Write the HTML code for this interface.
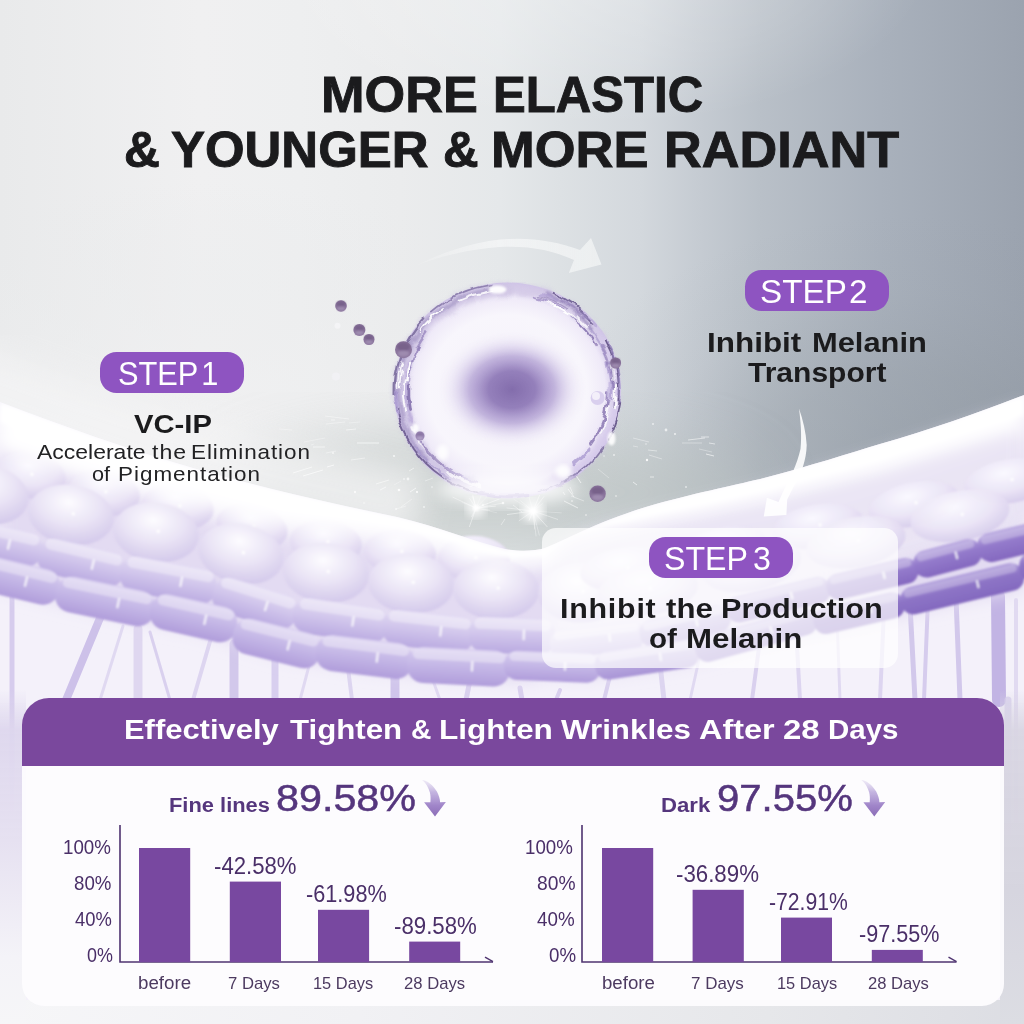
<!DOCTYPE html>
<html><head><meta charset="utf-8"><title>More Elastic</title>
<style>
html,body{margin:0;padding:0;}
body{width:1024px;height:1024px;overflow:hidden;position:relative;background:#e8e8ea;font-family:"Liberation Sans",sans-serif;}
.t{position:absolute;white-space:nowrap;line-height:1;transform-origin:0 0;font-family:"Liberation Sans",sans-serif;}
.pill{position:absolute;background:#8e54c1;border-radius:16.5px;}
</style></head><body>
<svg width="1024" height="1024" viewBox="0 0 1024 1024" style="position:absolute;left:0;top:0">
<defs>
  <linearGradient id="gBase" x1="0" y1="0" x2="1" y2="0">
    <stop offset="0" stop-color="#e9eaeb"/>
    <stop offset="0.195" stop-color="#f0f0f1"/>
    <stop offset="0.293" stop-color="#eeeff0"/>
    <stop offset="0.39" stop-color="#ebeced"/>
    <stop offset="0.488" stop-color="#e5e8ea"/>
    <stop offset="0.547" stop-color="#dde1e4"/>
    <stop offset="0.625" stop-color="#d3d8dd"/>
    <stop offset="0.684" stop-color="#c5cbd2"/>
    <stop offset="0.742" stop-color="#b9c0c8"/>
    <stop offset="0.859" stop-color="#a9b1bc"/>
    <stop offset="1" stop-color="#9ba3af"/>
  </linearGradient>
  <radialGradient id="gTopHi" gradientUnits="userSpaceOnUse" cx="600" cy="-40" r="330" gradientTransform="translate(600 -40) scale(1 0.5) translate(-600 40)">
    <stop offset="0" stop-color="#ffffff" stop-opacity="0.34"/>
    <stop offset="0.6" stop-color="#ffffff" stop-opacity="0.16"/>
    <stop offset="1" stop-color="#ffffff" stop-opacity="0"/>
  </radialGradient>
  <linearGradient id="gVert" x1="0" y1="0" x2="0" y2="1">
    <stop offset="0" stop-color="#8f979e" stop-opacity="0"/>
    <stop offset="0.55" stop-color="#8f979e" stop-opacity="0"/>
    <stop offset="1" stop-color="#8f979e" stop-opacity="0.22"/>
  </linearGradient>
  <radialGradient id="gGlow" cx="0.5" cy="0.5" r="0.5">
    <stop offset="0" stop-color="#e6eae7" stop-opacity="1"/>
    <stop offset="0.6" stop-color="#e2e6e4" stop-opacity="0.7"/>
    <stop offset="1" stop-color="#e2e6e4" stop-opacity="0"/>
  </radialGradient>
  <linearGradient id="gSkin" x1="0" y1="0" x2="0" y2="1">
    <stop offset="0" stop-color="#ffffff"/>
    <stop offset="0.35" stop-color="#f4f1fa"/>
    <stop offset="1" stop-color="#ddd4ee"/>
  </linearGradient>
  <filter id="b1"><feGaussianBlur stdDeviation="0.9"/></filter>
  <filter id="b60" x="-50%" y="-50%" width="200%" height="200%"><feGaussianBlur stdDeviation="60"/></filter>
  <radialGradient id="gCellR" cx="0.45" cy="0.3" r="0.75"><stop offset="0" stop-color="#fbfaff"/><stop offset="0.55" stop-color="#ebe5f6"/><stop offset="1" stop-color="#d3c8ea"/></radialGradient>
  <filter id="b2"><feGaussianBlur stdDeviation="2"/></filter>
  <filter id="b4"><feGaussianBlur stdDeviation="4"/></filter>
  <filter id="b8" x="-10%" y="-20%" width="120%" height="140%"><feGaussianBlur stdDeviation="8"/></filter>
  <filter id="b16" x="-30%" y="-30%" width="160%" height="160%"><feGaussianBlur stdDeviation="16"/></filter>
  <filter id="b30" x="-30%" y="-30%" width="160%" height="160%"><feGaussianBlur stdDeviation="30"/></filter>

  <radialGradient id="gCell" cx="0.45" cy="0.3" r="0.75">
    <stop offset="0" stop-color="#fdfcff"/>
    <stop offset="0.5" stop-color="#e9e3f5"/>
    <stop offset="1" stop-color="#d0c5e9"/>
  </radialGradient>
  <linearGradient id="gPillL" x1="0" y1="0" x2="0" y2="1">
    <stop offset="0" stop-color="#ddd4f1"/><stop offset="0.5" stop-color="#c9bce8"/><stop offset="1" stop-color="#ad9ad9"/>
  </linearGradient>
  <linearGradient id="gPillL2" x1="0" y1="0" x2="0" y2="1">
    <stop offset="0" stop-color="#cfc3ec"/><stop offset="0.5" stop-color="#bbabe1"/><stop offset="1" stop-color="#a692d5"/>
  </linearGradient>
  <linearGradient id="gPillR" x1="0" y1="0" x2="0" y2="1">
    <stop offset="0" stop-color="#b9a8e0"/><stop offset="0.4" stop-color="#9a82cf"/><stop offset="1" stop-color="#8a6fc3"/>
  </linearGradient>
  <linearGradient id="gPillR2" x1="0" y1="0" x2="0" y2="1">
    <stop offset="0" stop-color="#b3a1dd"/><stop offset="0.4" stop-color="#957dcb"/><stop offset="1" stop-color="#8b72c4"/>
  </linearGradient>
  <radialGradient id="gSph" cx="0.5" cy="0.5" r="0.5">
    <stop offset="0" stop-color="#f4f0fa"/>
    <stop offset="0.7" stop-color="#f8f6fc"/>
    <stop offset="0.86" stop-color="#efeaf8"/>
    <stop offset="0.95" stop-color="#ddd3ef"/>
    <stop offset="1" stop-color="#cfc3e8"/>
  </radialGradient>
  <linearGradient id="gRim" x1="0" y1="0" x2="1" y2="1">
    <stop offset="0" stop-color="#cdbfe6"/><stop offset="0.5" stop-color="#e9e3f5"/><stop offset="1" stop-color="#b7a6d6"/>
  </linearGradient>
  <radialGradient id="gCore" cx="0.5" cy="0.5" r="0.5">
    <stop offset="0" stop-color="#836dac"/>
    <stop offset="0.32" stop-color="#917cb9" stop-opacity="0.97"/>
    <stop offset="0.58" stop-color="#b3a2d4" stop-opacity="0.78"/>
    <stop offset="0.82" stop-color="#dcd3ee" stop-opacity="0.35"/>
    <stop offset="1" stop-color="#f4f0fa" stop-opacity="0"/>
  </radialGradient>
  <radialGradient id="gHaze" gradientUnits="userSpaceOnUse" cx="200" cy="440" r="430" gradientTransform="translate(200 440) scale(1 0.6) translate(-200 -440)">
    <stop offset="0" stop-color="#f1f1f2" stop-opacity="0.85"/>
    <stop offset="0.55" stop-color="#ecedee" stop-opacity="0.5"/>
    <stop offset="1" stop-color="#e8eaeb" stop-opacity="0"/>
  </radialGradient>
  <radialGradient id="gDark" gradientUnits="userSpaceOnUse" cx="910" cy="480" r="380" gradientTransform="translate(910 480) scale(1 0.7) translate(-910 -480)">
    <stop offset="0" stop-color="#858d93" stop-opacity="0.36"/>
    <stop offset="0.4" stop-color="#8a9298" stop-opacity="0.27"/>
    <stop offset="0.7" stop-color="#8f979e" stop-opacity="0.07"/>
    <stop offset="1" stop-color="#8f979e" stop-opacity="0"/>
  </radialGradient>
  <clipPath id="cpSkin"><path d="M0,402 C 60,425 130,450 200,470 C 260,487 330,503 397,517 C 440,527 475,542 505,549 C 520,552 535,551 545,548 C 570,538 600,520 656,504 C 700,492 740,484 764,478 C 810,466 850,453 880,444 C 930,430 980,412 1024,395 L1024,1024 L0,1024 Z"/></clipPath>
  <filter id="wob" x="-5%" y="-5%" width="110%" height="110%">
    <feTurbulence type="fractalNoise" baseFrequency="0.045" numOctaves="2" seed="4" result="n"/>
    <feDisplacementMap in="SourceGraphic" in2="n" scale="9" xChannelSelector="R" yChannelSelector="G"/>
  </filter>
  <linearGradient id="gArr1" gradientUnits="userSpaceOnUse" x1="413" y1="0" x2="600" y2="0">
    <stop offset="0" stop-color="#ffffff" stop-opacity="0.1"/>
    <stop offset="0.45" stop-color="#ffffff" stop-opacity="0.5"/>
    <stop offset="1" stop-color="#f4f6f6" stop-opacity="0.72"/>
  </linearGradient>
  <filter id="wob2" x="-5%" y="-5%" width="110%" height="110%">
    <feTurbulence type="fractalNoise" baseFrequency="0.09" numOctaves="2" seed="9" result="n"/>
    <feDisplacementMap in="SourceGraphic" in2="n" scale="7" xChannelSelector="R" yChannelSelector="G"/>
  </filter>
</defs>
<!-- BASE -->
<rect width="1024" height="1024" fill="url(#gBase)"/>
<rect width="1024" height="620" fill="url(#gDark)"/>
<rect width="1024" height="200" fill="url(#gTopHi)"/>
<rect width="1024" height="620" fill="url(#gHaze)"/>
<ellipse cx="490" cy="492" rx="270" ry="62" fill="#b9c1bf" opacity="0.62" filter="url(#b30)"/>
<path d="M-40,375 C 60,412 130,437 200,457 C 260,474 330,490 420,508" fill="none" stroke="#f4f4f5" stroke-width="70" opacity="0.75" filter="url(#b16)"/>
<path d="M0,402 C 60,425 130,450 200,470 C 260,487 330,503 397,517 C 440,527 475,542 505,549 C 520,552 535,551 545,548 C 570,538 600,520 656,504 C 700,492 740,484 764,478 C 810,466 850,453 880,444 C 930,430 980,412 1024,395 L1024,1024 L0,1024 Z" fill="#f4f1fa"/>
<line x1="12" y1="582" x2="12" y2="1024" stroke="#cfc4ea" stroke-width="5" stroke-linecap="round" opacity="0.8"/>
<line x1="100" y1="618" x2="66" y2="700" stroke="#c9bce8" stroke-width="8" stroke-linecap="round" opacity="0.9"/>
<line x1="123" y1="626" x2="100" y2="700" stroke="#dcd4f0" stroke-width="3" stroke-linecap="round" opacity="0.8"/>
<line x1="138" y1="629" x2="138" y2="700" stroke="#ddd5f0" stroke-width="9" stroke-linecap="round" opacity="0.9"/>
<line x1="150" y1="632" x2="170" y2="700" stroke="#d3c9ec" stroke-width="3" stroke-linecap="round" opacity="0.8"/>
<line x1="211" y1="638" x2="193" y2="700" stroke="#d8cfee" stroke-width="4" stroke-linecap="round" opacity="0.8"/>
<line x1="234" y1="644" x2="234" y2="700" stroke="#cfc4ea" stroke-width="9" stroke-linecap="round" opacity="0.9"/>
<line x1="275" y1="655" x2="275" y2="700" stroke="#d6ccee" stroke-width="7" stroke-linecap="round" opacity="0.9"/>
<line x1="310" y1="662" x2="300" y2="700" stroke="#dcd4f0" stroke-width="3" stroke-linecap="round" opacity="0.8"/>
<line x1="348" y1="668" x2="352" y2="700" stroke="#d8cfee" stroke-width="4" stroke-linecap="round" opacity="0.8"/>
<line x1="395" y1="655" x2="395" y2="700" stroke="#cdc1ea" stroke-width="9" stroke-linecap="round" opacity="0.9"/>
<line x1="430" y1="672" x2="440" y2="700" stroke="#dcd4f0" stroke-width="3" stroke-linecap="round" opacity="0.8"/>
<line x1="470" y1="680" x2="466" y2="700" stroke="#d3c9ec" stroke-width="5" stroke-linecap="round" opacity="0.8"/>
<line x1="520" y1="688" x2="522" y2="700" stroke="#d3c9ec" stroke-width="5" stroke-linecap="round" opacity="0.8"/>
<line x1="560" y1="690" x2="556" y2="700" stroke="#d3c9ec" stroke-width="4" stroke-linecap="round" opacity="0.8"/>
<line x1="610" y1="676" x2="604" y2="700" stroke="#d3c9ec" stroke-width="4" stroke-linecap="round" opacity="0.8"/>
<line x1="660" y1="664" x2="664" y2="700" stroke="#d8cfee" stroke-width="5" stroke-linecap="round" opacity="0.8"/>
<line x1="700" y1="655" x2="690" y2="700" stroke="#dcd4f0" stroke-width="3" stroke-linecap="round" opacity="0.8"/>
<line x1="760" y1="640" x2="752" y2="700" stroke="#d3c9ec" stroke-width="4" stroke-linecap="round" opacity="0.8"/>
<line x1="796" y1="628" x2="800" y2="700" stroke="#d8cfee" stroke-width="4" stroke-linecap="round" opacity="0.8"/>
<line x1="837" y1="618" x2="840" y2="700" stroke="#dcd4f0" stroke-width="3" stroke-linecap="round" opacity="0.8"/>
<line x1="884" y1="610" x2="880" y2="700" stroke="#d8cfee" stroke-width="4" stroke-linecap="round" opacity="0.8"/>
<line x1="910" y1="605" x2="915" y2="700" stroke="#cfc4ea" stroke-width="5" stroke-linecap="round" opacity="0.9"/>
<line x1="928" y1="600" x2="924" y2="700" stroke="#d3c9ec" stroke-width="4" stroke-linecap="round" opacity="0.9"/>
<line x1="956" y1="598" x2="960" y2="700" stroke="#cfc4ea" stroke-width="5" stroke-linecap="round" opacity="0.9"/>
<line x1="998" y1="596" x2="999" y2="700" stroke="#bdaee2" stroke-width="14" stroke-linecap="round" opacity="0.9"/>
<line x1="1008" y1="700" x2="1008" y2="1024" stroke="#d6cdec" stroke-width="7" stroke-linecap="round" opacity="0.8"/>
<line x1="1016" y1="600" x2="1016" y2="1024" stroke="#ddd5f0" stroke-width="4" stroke-linecap="round" opacity="0.8"/>
<defs><linearGradient id="gp1" x1="0" y1="0" x2="0" y2="1"><stop offset="0" stop-color="#e4ddf4"/><stop offset="0.45" stop-color="#d2c7ec"/><stop offset="1" stop-color="#b9a9e0"/></linearGradient><linearGradient id="gp2" x1="0" y1="0" x2="0" y2="1"><stop offset="0" stop-color="#e4ddf4"/><stop offset="0.45" stop-color="#d2c7ec"/><stop offset="1" stop-color="#b9a9e0"/></linearGradient><linearGradient id="gp3" x1="0" y1="0" x2="0" y2="1"><stop offset="0" stop-color="#e4ddf4"/><stop offset="0.45" stop-color="#d2c7ec"/><stop offset="1" stop-color="#b9a9e0"/></linearGradient><linearGradient id="gp4" x1="0" y1="0" x2="0" y2="1"><stop offset="0" stop-color="#e4ddf4"/><stop offset="0.45" stop-color="#d2c7ec"/><stop offset="1" stop-color="#b9a9e0"/></linearGradient><linearGradient id="gp5" x1="0" y1="0" x2="0" y2="1"><stop offset="0" stop-color="#e4ddf4"/><stop offset="0.45" stop-color="#d2c7ec"/><stop offset="1" stop-color="#b9a9e0"/></linearGradient><linearGradient id="gp6" x1="0" y1="0" x2="0" y2="1"><stop offset="0" stop-color="#e4ddf4"/><stop offset="0.45" stop-color="#d2c7ec"/><stop offset="1" stop-color="#b9a9e0"/></linearGradient><linearGradient id="gp7" x1="0" y1="0" x2="0" y2="1"><stop offset="0" stop-color="#e4ddf4"/><stop offset="0.45" stop-color="#d2c7ec"/><stop offset="1" stop-color="#b9a9e0"/></linearGradient><linearGradient id="gp8" x1="0" y1="0" x2="0" y2="1"><stop offset="0" stop-color="#e4ddf4"/><stop offset="0.45" stop-color="#d2c7ec"/><stop offset="1" stop-color="#b9a9e0"/></linearGradient><linearGradient id="gp9" x1="0" y1="0" x2="0" y2="1"><stop offset="0" stop-color="#d4caed"/><stop offset="0.45" stop-color="#bdaee1"/><stop offset="1" stop-color="#a894d5"/></linearGradient><linearGradient id="gp10" x1="0" y1="0" x2="0" y2="1"><stop offset="0" stop-color="#c3b5e5"/><stop offset="0.45" stop-color="#a792d5"/><stop offset="1" stop-color="#957cc9"/></linearGradient><linearGradient id="gp11" x1="0" y1="0" x2="0" y2="1"><stop offset="0" stop-color="#b4a2de"/><stop offset="0.45" stop-color="#937acb"/><stop offset="1" stop-color="#8468bf"/></linearGradient><linearGradient id="gp12" x1="0" y1="0" x2="0" y2="1"><stop offset="0" stop-color="#b4a2de"/><stop offset="0.45" stop-color="#937acb"/><stop offset="1" stop-color="#8468bf"/></linearGradient><linearGradient id="gp13" x1="0" y1="0" x2="0" y2="1"><stop offset="0" stop-color="#b4a2de"/><stop offset="0.45" stop-color="#937acb"/><stop offset="1" stop-color="#8468bf"/></linearGradient><linearGradient id="gp14" x1="0" y1="0" x2="0" y2="1"><stop offset="0" stop-color="#d9cff0"/><stop offset="0.45" stop-color="#c6b9e7"/><stop offset="1" stop-color="#b09ddb"/></linearGradient><linearGradient id="gp15" x1="0" y1="0" x2="0" y2="1"><stop offset="0" stop-color="#d9cff0"/><stop offset="0.45" stop-color="#c6b9e7"/><stop offset="1" stop-color="#b09ddb"/></linearGradient><linearGradient id="gp16" x1="0" y1="0" x2="0" y2="1"><stop offset="0" stop-color="#d9cff0"/><stop offset="0.45" stop-color="#c6b9e7"/><stop offset="1" stop-color="#b09ddb"/></linearGradient><linearGradient id="gp17" x1="0" y1="0" x2="0" y2="1"><stop offset="0" stop-color="#d9cff0"/><stop offset="0.45" stop-color="#c6b9e7"/><stop offset="1" stop-color="#b09ddb"/></linearGradient><linearGradient id="gp18" x1="0" y1="0" x2="0" y2="1"><stop offset="0" stop-color="#d9cff0"/><stop offset="0.45" stop-color="#c6b9e7"/><stop offset="1" stop-color="#b09ddb"/></linearGradient><linearGradient id="gp19" x1="0" y1="0" x2="0" y2="1"><stop offset="0" stop-color="#d9cff0"/><stop offset="0.45" stop-color="#c6b9e7"/><stop offset="1" stop-color="#b09ddb"/></linearGradient><linearGradient id="gp20" x1="0" y1="0" x2="0" y2="1"><stop offset="0" stop-color="#d9cff0"/><stop offset="0.45" stop-color="#c6b9e7"/><stop offset="1" stop-color="#b09ddb"/></linearGradient><linearGradient id="gp21" x1="0" y1="0" x2="0" y2="1"><stop offset="0" stop-color="#d1c5ec"/><stop offset="0.45" stop-color="#bcade1"/><stop offset="1" stop-color="#a894d6"/></linearGradient><linearGradient id="gp22" x1="0" y1="0" x2="0" y2="1"><stop offset="0" stop-color="#bdaee2"/><stop offset="0.45" stop-color="#a490d3"/><stop offset="1" stop-color="#957eca"/></linearGradient><linearGradient id="gp23" x1="0" y1="0" x2="0" y2="1"><stop offset="0" stop-color="#ab98d9"/><stop offset="0.45" stop-color="#8d74c6"/><stop offset="1" stop-color="#8369bf"/></linearGradient><linearGradient id="gp24" x1="0" y1="0" x2="0" y2="1"><stop offset="0" stop-color="#ab98d9"/><stop offset="0.45" stop-color="#8d74c6"/><stop offset="1" stop-color="#8369bf"/></linearGradient><linearGradient id="gp25" x1="0" y1="0" x2="0" y2="1"><stop offset="0" stop-color="#ab98d9"/><stop offset="0.45" stop-color="#8d74c6"/><stop offset="1" stop-color="#8369bf"/></linearGradient></defs>
<path d="M0,450.0 L16,455.8 L32,461.5 L48,467.3 L64,473.0 L80,478.8 L96,484.6 L112,489.8 L128,495.0 L144,500.1 L160,505.2 L176,510.3 L192,515.4 L208,520.5 L224,525.4 L240,529.5 L256,533.0 L272,536.6 L288,539.1 L304,540.5 L320,542.0 L336,543.5 L352,545.2 L368,547.0 L384,548.8 L400,550.8 L416,553.6 L432,556.5 L448,560.1 L464,564.5 L480,569.0 L496,571.5 L512,573.2 L528,571.3 L544,571.3 L560,560.3 L576,552.9 L592,548.8 L608,545.0 L624,542.3 L640,539.6 L656,536.9 L672,534.5 L688,532.2 L704,529.8 L720,527.3 L736,524.7 L752,522.2 L768,519.5 L784,516.2 L800,512.8 L816,509.5 L832,506.1 L848,501.4 L864,496.7 L880,492.0 L896,486.6 L912,481.1 L928,475.7 L944,470.2 L960,464.8 L976,459.3 L992,453.9 L1008,448.4 L1024,443.0 L1024,591.0 L1008,593.9 L992,596.7 L976,599.6 L960,602.4 L944,606.0 L928,609.7 L912,613.3 L896,616.9 L880,620.3 L864,623.7 L848,627.1 L832,630.2 L816,633.1 L800,636.0 L784,638.9 L768,642.7 L752,646.8 L736,650.8 L720,654.9 L704,659.0 L688,663.2 L672,666.1 L656,668.3 L640,670.4 L624,672.6 L608,674.8 L592,676.9 L576,677.0 L560,676.2 L544,675.4 L528,681.8 L512,681.2 L496,680.6 L480,680.1 L464,679.5 L448,678.8 L432,677.0 L416,675.2 L400,673.4 L384,671.7 L368,669.9 L352,667.8 L336,665.4 L320,663.0 L304,660.6 L288,658.2 L272,654.5 L256,649.5 L240,644.5 L224,639.5 L208,634.5 L192,630.5 L176,627.4 L160,624.4 L144,621.4 L128,618.3 L112,615.3 L96,612.0 L80,608.2 L64,604.4 L48,600.5 L32,596.7 L16,592.8 L0,589.0Z" fill="#e3dbf2" filter="url(#b8)"/>
<path d="M560,545.7 L576,536.9 L592,531.4 L608,526.2 L624,522.2 L640,518.1 L656,514.0 L672,510.2 L688,506.5 L704,502.7 L720,498.8 L736,494.9 L752,490.9 L768,486.8 L784,482.1 L800,477.4 L816,472.8 L832,468.1 L848,463.4 L864,458.7 L880,454.0 L896,448.6 L912,443.1 L928,437.7 L944,432.2 L960,426.8 L976,421.3 L992,415.9 L1008,410.4 L1024,405.0 L1024,525.0 L1008,529.1 L992,533.3 L976,537.4 L960,541.6 L944,546.5 L928,551.4 L912,556.3 L896,561.0 L880,565.1 L864,569.1 L848,573.2 L832,577.0 L816,580.5 L800,584.0 L784,587.5 L768,591.9 L752,596.7 L736,601.4 L720,606.1 L704,610.9 L688,615.5 L672,618.8 L656,621.4 L640,623.9 L624,626.5 L608,629.1 L592,631.6 L576,632.1 L560,631.7Z" fill="#ebe6f5" filter="url(#b8)" opacity="0.9"/>
<g filter="url(#b1)">
<g transform="translate(30.0,475.2) rotate(9.4)" opacity="1.0"><ellipse rx="36.0" ry="23.0" fill="url(#gCellR)"/><circle cx="1.8" cy="-1.2" r="1.7" fill="#fff" opacity="0.95"/></g>
<g transform="translate(104.0,492.8) rotate(8.2)" opacity="1.0"><ellipse rx="36.0" ry="23.0" fill="url(#gCellR)"/><circle cx="1.8" cy="-1.2" r="1.7" fill="#fff" opacity="0.95"/></g>
<g transform="translate(178.0,506.8) rotate(7.5)" opacity="1.0"><ellipse rx="36.0" ry="23.0" fill="url(#gCellR)"/><circle cx="1.8" cy="-1.2" r="1.7" fill="#fff" opacity="0.95"/></g>
<g transform="translate(252.0,527.2) rotate(12.1)" opacity="1.0"><ellipse rx="36.0" ry="23.0" fill="url(#gCellR)"/><circle cx="1.8" cy="-1.2" r="1.7" fill="#fff" opacity="0.95"/></g>
<g transform="translate(326.0,542.9) rotate(6.0)" opacity="1.0"><ellipse rx="36.0" ry="23.0" fill="url(#gCellR)"/><circle cx="1.8" cy="-1.2" r="1.7" fill="#fff" opacity="0.95"/></g>
<g transform="translate(400.0,552.4) rotate(4.4)" opacity="1.0"><ellipse rx="36.0" ry="23.0" fill="url(#gCellR)"/><circle cx="1.8" cy="-1.2" r="1.7" fill="#fff" opacity="0.95"/></g>
<g transform="translate(474.0,558.8) rotate(1.4)" opacity="1.0"><ellipse rx="36.0" ry="23.0" fill="url(#gCellR)"/><circle cx="1.8" cy="-1.2" r="1.7" fill="#fff" opacity="0.95"/></g>
<g transform="translate(-14.0,494.9) rotate(8.9)" opacity="1.0"><ellipse rx="43.0" ry="30.0" fill="url(#gCell)"/><circle cx="2.1" cy="-1.5" r="1.7" fill="#fff" opacity="0.95"/></g>
<g transform="translate(71.0,515.0) rotate(9.4)" opacity="1.0"><ellipse rx="43.0" ry="30.0" fill="url(#gCell)"/><circle cx="2.1" cy="-1.5" r="1.7" fill="#fff" opacity="0.95"/></g>
<g transform="translate(156.0,532.6) rotate(7.5)" opacity="1.0"><ellipse rx="43.0" ry="30.0" fill="url(#gCell)"/><circle cx="2.1" cy="-1.5" r="1.7" fill="#fff" opacity="0.95"/></g>
<g transform="translate(241.0,553.8) rotate(12.1)" opacity="1.0"><ellipse rx="43.0" ry="30.0" fill="url(#gCell)"/><circle cx="2.1" cy="-1.5" r="1.7" fill="#fff" opacity="0.95"/></g>
<g transform="translate(326.0,572.9) rotate(6.0)" opacity="1.0"><ellipse rx="43.0" ry="30.0" fill="url(#gCell)"/><circle cx="2.1" cy="-1.5" r="1.7" fill="#fff" opacity="0.95"/></g>
<g transform="translate(411.0,583.7) rotate(4.4)" opacity="1.0"><ellipse rx="43.0" ry="30.0" fill="url(#gCell)"/><circle cx="2.1" cy="-1.5" r="1.7" fill="#fff" opacity="0.95"/></g>
<g transform="translate(496.0,589.6) rotate(1.4)" opacity="1.0"><ellipse rx="43.0" ry="30.0" fill="url(#gCell)"/><circle cx="2.1" cy="-1.5" r="1.7" fill="#fff" opacity="0.95"/></g>
<g transform="translate(581.0,592.8) rotate(-0.7)" opacity="1.0"><ellipse rx="43.0" ry="30.0" fill="url(#gCell)"/><circle cx="2.1" cy="-1.5" r="1.7" fill="#fff" opacity="0.95"/></g>
<g transform="translate(1010.0,481.1) rotate(-9.9)" opacity="0.95"><ellipse rx="46.0" ry="22.0" fill="url(#gCellR)"/><circle cx="2.3" cy="-1.1" r="1.7" fill="#fff" opacity="0.95"/></g>
<g transform="translate(914.0,504.3) rotate(-11.9)" opacity="0.95"><ellipse rx="46.0" ry="22.0" fill="url(#gCellR)"/><circle cx="2.3" cy="-1.1" r="1.7" fill="#fff" opacity="0.95"/></g>
<g transform="translate(818.0,526.4) rotate(-9.0)" opacity="0.95"><ellipse rx="46.0" ry="22.0" fill="url(#gCellR)"/><circle cx="2.3" cy="-1.1" r="1.7" fill="#fff" opacity="0.95"/></g>
<g transform="translate(722.0,550.0) rotate(-12.3)" opacity="0.95"><ellipse rx="46.0" ry="22.0" fill="url(#gCellR)"/><circle cx="2.3" cy="-1.1" r="1.7" fill="#fff" opacity="0.95"/></g>
<g transform="translate(626.0,569.3) rotate(-6.7)" opacity="0.95"><ellipse rx="46.0" ry="22.0" fill="url(#gCellR)"/><circle cx="2.3" cy="-1.1" r="1.7" fill="#fff" opacity="0.95"/></g>
<g transform="translate(960.0,516.0) rotate(-10.9)" opacity="0.95"><ellipse rx="50.0" ry="25.0" fill="url(#gCellR)"/><circle cx="2.5" cy="-1.2" r="1.7" fill="#fff" opacity="0.95"/></g>
<g transform="translate(856.0,542.3) rotate(-10.5)" opacity="0.95"><ellipse rx="50.0" ry="25.0" fill="url(#gCellR)"/><circle cx="2.5" cy="-1.2" r="1.7" fill="#fff" opacity="0.95"/></g>
<g transform="translate(752.0,565.7) rotate(-12.3)" opacity="0.95"><ellipse rx="50.0" ry="25.0" fill="url(#gCellR)"/><circle cx="2.5" cy="-1.2" r="1.7" fill="#fff" opacity="0.95"/></g>
<g transform="translate(648.0,590.0) rotate(-6.7)" opacity="0.95"><ellipse rx="50.0" ry="25.0" fill="url(#gCellR)"/><circle cx="2.5" cy="-1.2" r="1.7" fill="#fff" opacity="0.95"/></g>
</g>
<g filter="url(#b1)">
<g transform="translate(-3.1,542.8) rotate(13.0)"><rect x="-45.9" y="-18.0" width="91.8" height="36.0" rx="16.6" fill="url(#gp1)"/><rect x="-40.9" y="-16.5" width="81.8" height="10.8" rx="5.4" fill="#ffffff" opacity="0.35"/><rect x="11.0" y="-6.5" width="2.2" height="10.8" rx="1.1" fill="#ffffff" opacity="0.8"/></g>
<g transform="translate(81.2,563.0) rotate(13.5)"><rect x="-44.4" y="-18.0" width="88.7" height="36.0" rx="16.6" fill="url(#gp2)"/><rect x="-39.4" y="-16.5" width="78.7" height="10.8" rx="5.4" fill="#ffffff" opacity="0.35"/><rect x="10.6" y="-6.5" width="2.2" height="10.8" rx="1.1" fill="#ffffff" opacity="0.8"/></g>
<g transform="translate(168.4,580.5) rotate(10.8)"><rect x="-48.9" y="-18.0" width="97.7" height="36.0" rx="16.6" fill="url(#gp3)"/><rect x="-43.9" y="-16.5" width="87.7" height="10.8" rx="5.4" fill="#ffffff" opacity="0.35"/><rect x="11.7" y="-6.5" width="2.2" height="10.8" rx="1.1" fill="#ffffff" opacity="0.8"/></g>
<g transform="translate(254.9,603.7) rotate(17.4)"><rect x="-43.7" y="-18.0" width="87.3" height="36.0" rx="16.6" fill="url(#gp4)"/><rect x="-38.7" y="-16.5" width="77.3" height="10.8" rx="5.4" fill="#ffffff" opacity="0.35"/><rect x="10.5" y="-6.5" width="2.2" height="10.8" rx="1.1" fill="#ffffff" opacity="0.8"/></g>
<g transform="translate(340.4,620.6) rotate(8.5)"><rect x="-47.8" y="-18.0" width="95.6" height="36.0" rx="16.6" fill="url(#gp5)"/><rect x="-42.8" y="-16.5" width="85.6" height="10.8" rx="5.4" fill="#ffffff" opacity="0.35"/><rect x="11.5" y="-6.5" width="2.2" height="10.8" rx="1.1" fill="#ffffff" opacity="0.8"/></g>
<g transform="translate(428.5,631.1) rotate(6.3)"><rect x="-46.3" y="-18.0" width="92.6" height="36.0" rx="16.6" fill="url(#gp6)"/><rect x="-41.3" y="-16.5" width="82.6" height="10.8" rx="5.4" fill="#ffffff" opacity="0.35"/><rect x="11.1" y="-6.5" width="2.2" height="10.8" rx="1.1" fill="#ffffff" opacity="0.8"/></g>
<g transform="translate(512.3,635.7) rotate(2.0)"><rect x="-43.5" y="-18.0" width="87.0" height="36.0" rx="16.6" fill="url(#gp7)"/><rect x="-38.5" y="-16.5" width="77.0" height="10.8" rx="5.4" fill="#ffffff" opacity="0.35"/><rect x="10.4" y="-6.5" width="2.2" height="10.8" rx="1.1" fill="#ffffff" opacity="0.8"/></g>
<g transform="translate(597.4,640.1) rotate(-6.8)"><rect x="-47.6" y="-14.4" width="95.1" height="28.7" rx="13.2" fill="url(#gp8)"/><rect x="-42.6" y="-12.9" width="85.1" height="8.6" rx="4.3" fill="#ffffff" opacity="0.35"/><rect x="11.4" y="-5.2" width="2.2" height="8.6" rx="1.1" fill="#ffffff" opacity="0.8"/></g>
<g transform="translate(685.1,626.2) rotate(-12.7)"><rect x="-46.2" y="-13.7" width="92.3" height="27.3" rx="12.6" fill="url(#gp9)"/><rect x="-41.2" y="-12.2" width="82.3" height="8.2" rx="4.1" fill="#ffffff" opacity="0.35"/><rect x="11.1" y="-4.9" width="2.2" height="8.2" rx="1.1" fill="#ffffff" opacity="0.8"/></g>
<g transform="translate(778.4,599.7) rotate(-13.6)"><rect x="-53.1" y="-13.2" width="106.2" height="26.4" rx="12.1" fill="url(#gp10)"/><rect x="-48.1" y="-11.7" width="96.2" height="7.9" rx="4.0" fill="#ffffff" opacity="0.26"/><rect x="12.7" y="-4.7" width="2.2" height="7.9" rx="1.1" fill="#ffffff" opacity="0.8"/></g>
<g transform="translate(872.2,578.8) rotate(-13.1)"><rect x="-46.7" y="-13.0" width="93.4" height="26.0" rx="12.0" fill="url(#gp11)"/><rect x="-41.7" y="-11.5" width="83.4" height="7.8" rx="3.9" fill="#ffffff" opacity="0.26"/><rect x="11.2" y="-4.7" width="2.2" height="7.8" rx="1.1" fill="#ffffff" opacity="0.8"/></g>
<g transform="translate(947.5,558.4) rotate(-14.7)"><rect x="-34.6" y="-13.7" width="69.2" height="27.3" rx="12.6" fill="url(#gp12)"/><rect x="-29.6" y="-12.2" width="59.2" height="8.2" rx="4.1" fill="#ffffff" opacity="0.26"/><rect x="8.3" y="-4.9" width="2.2" height="8.2" rx="1.1" fill="#ffffff" opacity="0.8"/></g>
<g transform="translate(1039.1,535.9) rotate(-13.4)"><rect x="-63.0" y="-14.8" width="126.0" height="29.6" rx="13.6" fill="url(#gp13)"/><rect x="-58.0" y="-13.3" width="116.0" height="8.9" rx="4.4" fill="#ffffff" opacity="0.26"/><rect x="15.1" y="-5.3" width="2.2" height="8.9" rx="1.1" fill="#ffffff" opacity="0.8"/></g>
<g transform="translate(13.8,579.8) rotate(13.5)"><rect x="-46.8" y="-18.0" width="93.6" height="36.0" rx="16.6" fill="url(#gp14)"/><rect x="-41.8" y="-16.5" width="83.6" height="10.8" rx="5.4" fill="#ffffff" opacity="0.35"/><rect x="11.2" y="-6.5" width="2.2" height="10.8" rx="1.1" fill="#ffffff" opacity="0.8"/></g>
<g transform="translate(105.1,601.5) rotate(11.7)"><rect x="-50.4" y="-18.0" width="100.9" height="36.0" rx="16.6" fill="url(#gp15)"/><rect x="-45.4" y="-16.5" width="90.9" height="10.8" rx="5.4" fill="#ffffff" opacity="0.35"/><rect x="12.1" y="-6.5" width="2.2" height="10.8" rx="1.1" fill="#ffffff" opacity="0.8"/></g>
<g transform="translate(193.6,618.3) rotate(12.7)"><rect x="-44.1" y="-18.0" width="88.2" height="36.0" rx="16.6" fill="url(#gp16)"/><rect x="-39.1" y="-16.5" width="78.2" height="10.8" rx="5.4" fill="#ffffff" opacity="0.35"/><rect x="10.6" y="-6.5" width="2.2" height="10.8" rx="1.1" fill="#ffffff" opacity="0.8"/></g>
<g transform="translate(276.8,643.5) rotate(14.0)"><rect x="-45.0" y="-18.0" width="90.0" height="36.0" rx="16.6" fill="url(#gp17)"/><rect x="-40.0" y="-16.5" width="80.0" height="10.8" rx="5.4" fill="#ffffff" opacity="0.35"/><rect x="10.8" y="-6.5" width="2.2" height="10.8" rx="1.1" fill="#ffffff" opacity="0.8"/></g>
<g transform="translate(364.4,657.0) rotate(7.1)"><rect x="-48.6" y="-18.0" width="97.3" height="36.0" rx="16.6" fill="url(#gp18)"/><rect x="-43.6" y="-16.5" width="87.3" height="10.8" rx="5.4" fill="#ffffff" opacity="0.35"/><rect x="11.7" y="-6.5" width="2.2" height="10.8" rx="1.1" fill="#ffffff" opacity="0.8"/></g>
<g transform="translate(458.6,666.8) rotate(2.9)"><rect x="-51.5" y="-18.0" width="103.1" height="36.0" rx="16.6" fill="url(#gp19)"/><rect x="-46.5" y="-16.5" width="93.1" height="10.8" rx="5.4" fill="#ffffff" opacity="0.35"/><rect x="12.4" y="-6.5" width="2.2" height="10.8" rx="1.1" fill="#ffffff" opacity="0.8"/></g>
<g transform="translate(552.3,666.7) rotate(2.2)"><rect x="-48.2" y="-14.6" width="96.4" height="29.2" rx="13.4" fill="url(#gp20)"/><rect x="-43.2" y="-13.1" width="86.4" height="8.7" rx="4.4" fill="#ffffff" opacity="0.35"/><rect x="11.6" y="-5.2" width="2.2" height="8.7" rx="1.1" fill="#ffffff" opacity="0.8"/></g>
<g transform="translate(647.0,659.8) rotate(-8.4)"><rect x="-52.4" y="-14.0" width="104.9" height="28.0" rx="12.9" fill="url(#gp21)"/><rect x="-47.4" y="-12.5" width="94.9" height="8.4" rx="4.2" fill="#ffffff" opacity="0.35"/><rect x="12.6" y="-5.0" width="2.2" height="8.4" rx="1.1" fill="#ffffff" opacity="0.8"/></g>
<g transform="translate(756.0,635.2) rotate(-15.4)"><rect x="-62.6" y="-13.2" width="125.2" height="26.5" rx="12.2" fill="url(#gp22)"/><rect x="-57.6" y="-11.7" width="115.2" height="7.9" rx="4.0" fill="#ffffff" opacity="0.26"/><rect x="15.0" y="-4.8" width="2.2" height="7.9" rx="1.1" fill="#ffffff" opacity="0.8"/></g>
<g transform="translate(858.9,613.2) rotate(-13.1)"><rect x="-46.3" y="-13.0" width="92.6" height="26.1" rx="12.0" fill="url(#gp23)"/><rect x="-41.3" y="-11.5" width="82.6" height="7.8" rx="3.9" fill="#ffffff" opacity="0.26"/><rect x="11.1" y="-4.7" width="2.2" height="7.8" rx="1.1" fill="#ffffff" opacity="0.8"/></g>
<g transform="translate(962.2,588.8) rotate(-13.5)"><rect x="-63.0" y="-13.9" width="126.0" height="27.8" rx="12.8" fill="url(#gp24)"/><rect x="-58.0" y="-12.4" width="116.0" height="8.3" rx="4.2" fill="#ffffff" opacity="0.26"/><rect x="15.1" y="-5.0" width="2.2" height="8.3" rx="1.1" fill="#ffffff" opacity="0.8"/></g>
<g transform="translate(1082.2,565.5) rotate(-1.3)"><rect x="-63.0" y="-14.8" width="126.0" height="29.6" rx="13.6" fill="url(#gp25)"/><rect x="-58.0" y="-13.3" width="116.0" height="8.9" rx="4.4" fill="#ffffff" opacity="0.26"/><rect x="15.1" y="-5.3" width="2.2" height="8.9" rx="1.1" fill="#ffffff" opacity="0.8"/></g>
</g>
<g clip-path="url(#cpSkin)">
<path d="M0,402 C 60,425 130,450 200,470 C 260,487 330,503 397,517 C 440,527 475,542 505,549 C 520,552 535,551 545,548 C 570,538 600,520 656,504 C 700,492 740,484 764,478 C 810,466 850,453 880,444 C 930,430 980,412 1024,395 L1024,428.7 L1008,433.5 L992,438.2 L976,443.0 L960,447.7 L944,452.4 L928,457.2 L912,461.9 L896,466.7 L880,471.4 L864,475.4 L848,479.4 L832,483.4 L816,487.3 L800,491.3 L784,495.3 L768,499.3 L752,502.7 L736,505.9 L720,509.2 L704,512.4 L688,515.4 L672,518.5 L656,521.5 L640,524.9 L624,528.3 L608,531.7 L592,536.2 L576,540.9 L560,549.0 L544,560.7 L528,561.2 L512,562.8 L496,560.9 L480,558.1 L464,553.3 L448,548.5 L432,544.7 L416,541.5 L400,538.3 L384,536.1 L368,534.0 L352,531.9 L336,529.8 L320,528.1 L304,526.3 L288,524.6 L272,521.8 L256,517.9 L240,514.1 L224,510.2 L208,506.4 L192,502.4 L176,498.4 L160,494.4 L144,490.3 L128,486.3 L112,482.3 L96,478.1 L80,473.4 L64,468.7 L48,464.1 L32,459.4 L16,453.8 L0,448.0 Z" fill="#ffffff" filter="url(#b8)" opacity="0.97"/>
<path d="M0,402 C 60,425 130,450 200,470 C 260,487 330,503 397,517 C 440,527 475,542 505,549 C 520,552 535,551 545,548 C 570,538 600,520 656,504 C 700,492 740,484 764,478 C 810,466 850,453 880,444 C 930,430 980,412 1024,395 L1024,414.9 L1008,419.9 L992,425.0 L976,430.0 L960,435.1 L944,440.2 L928,445.2 L912,450.3 L896,455.3 L880,460.4 L864,464.7 L848,469.0 L832,473.3 L816,477.6 L800,481.9 L784,486.2 L768,490.5 L752,494.3 L736,497.8 L720,501.4 L704,504.9 L688,508.3 L672,511.6 L656,515.0 L640,518.7 L624,522.4 L608,526.1 L592,530.9 L576,536.0 L560,544.4 L544,556.4 L528,557.1 L512,558.1 L496,555.4 L480,551.9 L464,546.4 L448,540.9 L432,536.4 L416,532.5 L400,528.6 L384,525.6 L368,522.8 L352,520.0 L336,517.3 L320,514.8 L304,512.4 L288,509.9 L272,506.4 L256,501.9 L240,497.3 L224,492.8 L208,488.2 L192,483.6 L176,478.8 L160,474.1 L144,469.3 L128,464.6 L112,459.9 L96,455.0 L80,449.6 L64,444.2 L48,438.8 L32,433.5 L16,427.8 L0,422.0 Z" fill="#ffffff" filter="url(#b2)" opacity="0.95"/>
</g>
<circle cx="533" cy="511" r="11.0" fill="#fff" opacity="0.9" filter="url(#b4)"/>
<circle cx="533" cy="511" r="3.6" fill="#fff" opacity="0.95" filter="url(#b1)"/>
<line x1="533" y1="511" x2="534.7" y2="529.3" stroke="#fff" stroke-width="0.7" opacity="0.45"/>
<line x1="533" y1="511" x2="513.5" y2="499.1" stroke="#fff" stroke-width="0.7" opacity="0.33"/>
<line x1="533" y1="511" x2="561.7" y2="512.9" stroke="#fff" stroke-width="0.7" opacity="0.40"/>
<line x1="533" y1="511" x2="536.1" y2="536.4" stroke="#fff" stroke-width="0.7" opacity="0.49"/>
<line x1="533" y1="511" x2="544.1" y2="496.3" stroke="#fff" stroke-width="0.7" opacity="0.56"/>
<line x1="533" y1="511" x2="547.4" y2="527.0" stroke="#fff" stroke-width="0.7" opacity="0.65"/>
<line x1="533" y1="511" x2="506.5" y2="507.9" stroke="#fff" stroke-width="0.7" opacity="0.57"/>
<line x1="533" y1="511" x2="558.0" y2="519.5" stroke="#fff" stroke-width="0.7" opacity="0.54"/>
<line x1="533" y1="511" x2="529.0" y2="520.6" stroke="#fff" stroke-width="0.7" opacity="0.65"/>
<line x1="533" y1="511" x2="507.0" y2="514.6" stroke="#fff" stroke-width="0.7" opacity="0.65"/>
<line x1="533" y1="511" x2="526.2" y2="487.3" stroke="#fff" stroke-width="0.7" opacity="0.46"/>
<line x1="533" y1="511" x2="539.6" y2="495.1" stroke="#fff" stroke-width="0.7" opacity="0.67"/>
<line x1="533" y1="511" x2="543.1" y2="503.3" stroke="#fff" stroke-width="0.7" opacity="0.35"/>
<line x1="533" y1="511" x2="539.4" y2="535.5" stroke="#fff" stroke-width="0.7" opacity="0.47"/>
<line x1="533" y1="511" x2="520.4" y2="500.7" stroke="#fff" stroke-width="0.7" opacity="0.50"/>
<line x1="533" y1="511" x2="518.7" y2="521.0" stroke="#fff" stroke-width="0.7" opacity="0.53"/>
<circle cx="476" cy="508" r="9.9" fill="#fff" opacity="0.7" filter="url(#b4)"/>
<circle cx="476" cy="508" r="3.2" fill="#fff" opacity="0.95" filter="url(#b1)"/>
<line x1="476" y1="508" x2="452.6" y2="497.1" stroke="#fff" stroke-width="0.7" opacity="0.57"/>
<line x1="476" y1="508" x2="499.6" y2="498.9" stroke="#fff" stroke-width="0.7" opacity="0.70"/>
<line x1="476" y1="508" x2="469.5" y2="498.3" stroke="#fff" stroke-width="0.7" opacity="0.64"/>
<line x1="476" y1="508" x2="502.4" y2="503.2" stroke="#fff" stroke-width="0.7" opacity="0.53"/>
<line x1="476" y1="508" x2="472.7" y2="496.6" stroke="#fff" stroke-width="0.7" opacity="0.63"/>
<line x1="476" y1="508" x2="461.7" y2="502.3" stroke="#fff" stroke-width="0.7" opacity="0.33"/>
<line x1="476" y1="508" x2="493.4" y2="489.8" stroke="#fff" stroke-width="0.7" opacity="0.34"/>
<line x1="476" y1="508" x2="481.7" y2="494.2" stroke="#fff" stroke-width="0.7" opacity="0.36"/>
<line x1="476" y1="508" x2="469.3" y2="527.0" stroke="#fff" stroke-width="0.7" opacity="0.65"/>
<line x1="476" y1="508" x2="497.0" y2="512.8" stroke="#fff" stroke-width="0.7" opacity="0.32"/>
<line x1="476" y1="508" x2="472.7" y2="494.9" stroke="#fff" stroke-width="0.7" opacity="0.65"/>
<line x1="476" y1="508" x2="495.8" y2="506.1" stroke="#fff" stroke-width="0.7" opacity="0.70"/>
<line x1="476" y1="508" x2="471.5" y2="517.1" stroke="#fff" stroke-width="0.7" opacity="0.54"/>
<line x1="476" y1="508" x2="490.1" y2="510.2" stroke="#fff" stroke-width="0.7" opacity="0.46"/>
<line x1="706" y1="454" x2="714" y2="456" stroke="#fff" stroke-width="0.9" opacity="0.70"/>
<line x1="389" y1="480" x2="376" y2="484" stroke="#fff" stroke-width="0.9" opacity="0.57"/>
<line x1="334" y1="465" x2="327" y2="467" stroke="#fff" stroke-width="0.9" opacity="0.74"/>
<line x1="335" y1="420" x2="331" y2="420" stroke="#fff" stroke-width="0.9" opacity="0.56"/>
<line x1="688" y1="440" x2="705" y2="438" stroke="#fff" stroke-width="0.9" opacity="0.58"/>
<line x1="325" y1="447" x2="313" y2="447" stroke="#fff" stroke-width="0.9" opacity="0.63"/>
<line x1="633" y1="438" x2="649" y2="442" stroke="#fff" stroke-width="0.9" opacity="0.41"/>
<line x1="336" y1="451" x2="326" y2="453" stroke="#fff" stroke-width="0.9" opacity="0.44"/>
<line x1="386" y1="487" x2="380" y2="490" stroke="#fff" stroke-width="0.9" opacity="0.65"/>
<line x1="682" y1="443" x2="702" y2="443" stroke="#fff" stroke-width="0.9" opacity="0.40"/>
<line x1="571" y1="496" x2="584" y2="501" stroke="#fff" stroke-width="0.9" opacity="0.44"/>
<line x1="406" y1="506" x2="396" y2="509" stroke="#fff" stroke-width="0.9" opacity="0.38"/>
<line x1="412" y1="499" x2="401" y2="507" stroke="#fff" stroke-width="0.9" opacity="0.40"/>
<line x1="633" y1="482" x2="637" y2="485" stroke="#fff" stroke-width="0.9" opacity="0.68"/>
<line x1="568" y1="489" x2="574" y2="497" stroke="#fff" stroke-width="0.9" opacity="0.66"/>
<line x1="433" y1="478" x2="425" y2="481" stroke="#fff" stroke-width="0.9" opacity="0.42"/>
<line x1="416" y1="488" x2="410" y2="492" stroke="#fff" stroke-width="0.9" opacity="0.71"/>
<line x1="575" y1="474" x2="581" y2="483" stroke="#fff" stroke-width="0.9" opacity="0.74"/>
<line x1="312" y1="467" x2="293" y2="473" stroke="#fff" stroke-width="0.9" opacity="0.64"/>
<line x1="360" y1="422" x2="349" y2="423" stroke="#fff" stroke-width="0.9" opacity="0.33"/>
<line x1="701" y1="437" x2="709" y2="437" stroke="#fff" stroke-width="0.9" opacity="0.60"/>
<line x1="349" y1="419" x2="325" y2="416" stroke="#fff" stroke-width="0.9" opacity="0.45"/>
<line x1="505" y1="519" x2="501" y2="525" stroke="#fff" stroke-width="0.9" opacity="0.46"/>
<line x1="564" y1="501" x2="578" y2="508" stroke="#fff" stroke-width="0.9" opacity="0.66"/>
<line x1="648" y1="450" x2="657" y2="451" stroke="#fff" stroke-width="0.9" opacity="0.49"/>
<line x1="314" y1="444" x2="311" y2="445" stroke="#fff" stroke-width="0.9" opacity="0.36"/>
<line x1="598" y1="469" x2="609" y2="478" stroke="#fff" stroke-width="0.9" opacity="0.34"/>
<line x1="356" y1="429" x2="346" y2="430" stroke="#fff" stroke-width="0.9" opacity="0.59"/>
<line x1="563" y1="492" x2="565" y2="495" stroke="#fff" stroke-width="0.9" opacity="0.62"/>
<line x1="414" y1="468" x2="409" y2="471" stroke="#fff" stroke-width="0.9" opacity="0.57"/>
<line x1="365" y1="458" x2="351" y2="460" stroke="#fff" stroke-width="0.9" opacity="0.49"/>
<line x1="513" y1="505" x2="522" y2="512" stroke="#fff" stroke-width="0.9" opacity="0.49"/>
<line x1="323" y1="470" x2="303" y2="476" stroke="#fff" stroke-width="0.9" opacity="0.70"/>
<line x1="379" y1="443" x2="357" y2="443" stroke="#fff" stroke-width="0.9" opacity="0.70"/>
<line x1="650" y1="477" x2="654" y2="477" stroke="#fff" stroke-width="0.9" opacity="0.65"/>
<line x1="633" y1="446" x2="638" y2="447" stroke="#fff" stroke-width="0.9" opacity="0.38"/>
<line x1="709" y1="443" x2="715" y2="444" stroke="#fff" stroke-width="0.9" opacity="0.60"/>
<line x1="699" y1="449" x2="712" y2="452" stroke="#fff" stroke-width="0.9" opacity="0.35"/>
<line x1="649" y1="455" x2="662" y2="459" stroke="#fff" stroke-width="0.9" opacity="0.41"/>
<line x1="570" y1="487" x2="573" y2="494" stroke="#fff" stroke-width="0.9" opacity="0.48"/>
<line x1="401" y1="481" x2="394" y2="485" stroke="#fff" stroke-width="0.9" opacity="0.34"/>
<line x1="292" y1="430" x2="279" y2="429" stroke="#fff" stroke-width="0.9" opacity="0.37"/>
<line x1="325" y1="438" x2="304" y2="442" stroke="#fff" stroke-width="0.9" opacity="0.34"/>
<line x1="345" y1="422" x2="326" y2="424" stroke="#fff" stroke-width="0.9" opacity="0.42"/>
<circle cx="404" cy="479" r="0.9" fill="#fff" opacity="0.59"/>
<circle cx="586" cy="515" r="0.8" fill="#fff" opacity="0.78"/>
<circle cx="483" cy="505" r="1.1" fill="#fff" opacity="0.61"/>
<circle cx="394" cy="456" r="0.9" fill="#fff" opacity="0.81"/>
<circle cx="503" cy="503" r="1.3" fill="#fff" opacity="0.72"/>
<circle cx="647" cy="460" r="1.2" fill="#fff" opacity="0.88"/>
<circle cx="417" cy="492" r="1.1" fill="#fff" opacity="0.88"/>
<circle cx="646" cy="444" r="0.8" fill="#fff" opacity="0.60"/>
<circle cx="399" cy="490" r="1.3" fill="#fff" opacity="0.86"/>
<circle cx="424" cy="507" r="0.9" fill="#fff" opacity="0.67"/>
<circle cx="364" cy="503" r="0.8" fill="#fff" opacity="0.64"/>
<circle cx="333" cy="453" r="0.9" fill="#fff" opacity="0.69"/>
<circle cx="408" cy="479" r="1.4" fill="#fff" opacity="0.66"/>
<circle cx="432" cy="487" r="0.7" fill="#fff" opacity="0.85"/>
<circle cx="666" cy="430" r="1.4" fill="#fff" opacity="0.65"/>
<circle cx="616" cy="496" r="0.8" fill="#fff" opacity="0.77"/>
<circle cx="572" cy="501" r="0.8" fill="#fff" opacity="0.80"/>
<circle cx="686" cy="487" r="1.0" fill="#fff" opacity="0.55"/>
<circle cx="596" cy="488" r="1.1" fill="#fff" opacity="0.57"/>
<circle cx="396" cy="509" r="1.1" fill="#fff" opacity="0.55"/>
<circle cx="675" cy="434" r="0.9" fill="#fff" opacity="0.79"/>
<circle cx="355" cy="492" r="1.2" fill="#fff" opacity="0.72"/>
<circle cx="604" cy="456" r="0.8" fill="#fff" opacity="0.65"/>
<circle cx="653" cy="424" r="1.0" fill="#fff" opacity="0.60"/>
<circle cx="614" cy="455" r="0.9" fill="#fff" opacity="0.66"/>
<ellipse cx="507.5" cy="390.6" rx="113.5" ry="108" fill="url(#gSph)"/>
<g filter="url(#wob)">
<path d="M471.1,485.5 A106.5,101.0 0 0 1 507.5,289.6" fill="none" stroke="#cdc3e2" stroke-width="13" stroke-linecap="round" opacity="0.75" filter="url(#b2)"/>
<path d="M507.5,288.6 A107.5,102.0 0 0 1 600.6,339.6" fill="none" stroke="#d0c6e4" stroke-width="10" stroke-linecap="round" opacity="0.7" filter="url(#b2)"/>
<path d="M601.5,339.1 A108.5,103.0 0 0 1 544.6,487.4" fill="none" stroke="#d6cbeb" stroke-width="8" stroke-linecap="round" opacity="0.7" filter="url(#b2)"/>
<path d="M544.3,486.4 A107.5,102.0 0 0 1 470.7,486.4" fill="none" stroke="#e6dff3" stroke-width="9" stroke-linecap="round" opacity="0.6" filter="url(#b2)"/>
<path d="M426.1,460.2 A109.5,104.0 0 0 1 412.7,338.6" fill="none" stroke="#a99bc8" stroke-width="4" stroke-linecap="round" opacity="0.8" filter="url(#b1)"/>
<path d="M414.4,339.6 A107.5,102.0 0 0 1 488.8,290.1" fill="none" stroke="#ac9fca" stroke-width="5" stroke-linecap="round" opacity="0.8" filter="url(#b1)"/>
<path d="M544.6,293.8 A108.5,103.0 0 0 1 593.0,327.2" fill="none" stroke="#a193c2" stroke-width="4" stroke-linecap="round" opacity="0.8" filter="url(#b1)"/>
<path d="M411.2,423.8 A102.5,97.0 0 0 1 408.5,365.5" fill="none" stroke="#b3a2d6" stroke-width="3" stroke-linecap="round" opacity="0.8" filter="url(#b1)"/>
<path d="M443.0,478.2 A112.5,107.0 0 0 1 396.1,405.5" fill="none" stroke="#6a5a8e" stroke-width="1.8" stroke-linecap="round" opacity="0.9"/>
<path d="M395.6,394.3 A112.0,106.5 0 0 1 424.3,319.3" fill="none" stroke="#766799" stroke-width="2.2" stroke-linecap="round" opacity="0.85"/>
<path d="M432.2,311.1 A112.5,107.0 0 0 1 491.8,284.6" fill="none" stroke="#8172a4" stroke-width="1.6" stroke-linecap="round" opacity="0.8"/>
<path d="M553.3,292.9 A112.5,107.0 0 0 1 593.7,321.8" fill="none" stroke="#6a5a8e" stroke-width="2.0" stroke-linecap="round" opacity="0.85"/>
<path d="M606.8,340.4 A112.5,107.0 0 0 1 606.8,440.8" fill="none" stroke="#625285" stroke-width="1.8" stroke-linecap="round" opacity="0.9"/>
<path d="M602.5,447.0 A112.0,106.5 0 0 1 563.5,482.8" fill="none" stroke="#766799" stroke-width="1.6" stroke-linecap="round" opacity="0.8"/>
<path d="M476.8,492.5 A111.5,106.0 0 0 1 445.1,478.5" fill="none" stroke="#766799" stroke-width="1.6" stroke-linecap="round" opacity="0.7"/>
<path d="M611.8,365.9 A107.5,102.0 0 0 1 613.4,408.3" fill="none" stroke="#766799" stroke-width="1.4" stroke-linecap="round" opacity="0.6"/>
</g>
<g filter="url(#wob2)">
<path d="M571.0,316.9 A100.5,95.0 0 0 1 593.6,341.6" fill="none" stroke="#9583bf" stroke-width="1.4" stroke-linecap="round" opacity="0.64"/>
<path d="M416.8,348.2 A101.2,95.7 0 0 1 426.3,333.5" fill="none" stroke="#8f7db8" stroke-width="2.5" stroke-linecap="round" opacity="0.69"/>
<path d="M577.7,473.9 A112.3,106.8 0 0 1 557.8,486.1" fill="none" stroke="#8f7db8" stroke-width="2.2" stroke-linecap="round" opacity="0.46"/>
<path d="M574.9,319.8 A100.7,95.2 0 0 1 595.9,345.1" fill="none" stroke="#7f6ba9" stroke-width="2.1" stroke-linecap="round" opacity="0.65"/>
<path d="M608.2,391.6 A100.7,95.2 0 0 1 590.5,444.5" fill="none" stroke="#7f6ba9" stroke-width="2.6" stroke-linecap="round" opacity="0.75"/>
<path d="M408.3,374.7 A100.6,95.1 0 0 1 418.7,345.9" fill="none" stroke="#8f7db8" stroke-width="1.9" stroke-linecap="round" opacity="0.79"/>
<path d="M533.5,296.7 A102.6,97.1 0 0 1 562.5,308.7" fill="none" stroke="#9583bf" stroke-width="1.9" stroke-linecap="round" opacity="0.7"/>
<path d="M542.1,294.8 A106.8,101.3 0 0 1 556.4,300.6" fill="none" stroke="#a594cd" stroke-width="3.0" stroke-linecap="round" opacity="0.55"/>
<path d="M449.8,479.4 A109.9,104.4 0 0 1 414.9,446.8" fill="none" stroke="#a594cd" stroke-width="2.1" stroke-linecap="round" opacity="0.62"/>
<path d="M410.6,409.5 A98.9,93.4 0 0 1 408.8,385.2" fill="none" stroke="#7f6ba9" stroke-width="2.8" stroke-linecap="round" opacity="0.85"/>
<path d="M527.7,494.4 A111.1,105.6 0 0 1 480.2,493.0" fill="none" stroke="#a594cd" stroke-width="3.2" stroke-linecap="round" opacity="0.63"/>
<path d="M583.0,312.9 A111.2,105.7 0 0 1 595.9,326.4" fill="none" stroke="#a594cd" stroke-width="2.3" stroke-linecap="round" opacity="0.46"/>
<path d="M607.9,363.3 A104.5,99.0 0 0 1 611.6,398.5" fill="none" stroke="#a594cd" stroke-width="2.9" stroke-linecap="round" opacity="0.7"/>
<path d="M588.9,449.0 A102.1,96.6 0 0 1 573.0,464.7" fill="none" stroke="#a594cd" stroke-width="3.1" stroke-linecap="round" opacity="0.72"/>
<path d="M397.6,410.8 A112.0,106.5 0 0 1 395.5,391.1" fill="none" stroke="#a594cd" stroke-width="3.1" stroke-linecap="round" opacity="0.75"/>
<path d="M561.6,299.6 A110.0,104.5 0 0 1 585.4,316.8" fill="none" stroke="#8f7db8" stroke-width="2.6" stroke-linecap="round" opacity="0.5"/>
<path d="M408.1,383.9 A99.7,94.2 0 0 1 413.5,359.4" fill="none" stroke="#8f7db8" stroke-width="1.4" stroke-linecap="round" opacity="0.48"/>
<path d="M538.8,296.2 A104.5,99.0 0 0 1 567.5,309.5" fill="none" stroke="#7f6ba9" stroke-width="1.3" stroke-linecap="round" opacity="0.51"/>
<path d="M577.6,471.8 A110.5,105.0 0 0 1 538.3,491.5" fill="none" stroke="#8f7db8" stroke-width="1.1" stroke-linecap="round" opacity="0.64"/>
<path d="M602.3,346.2 A105.7,100.2 0 0 1 613.2,387.5" fill="none" stroke="#7f6ba9" stroke-width="2.6" stroke-linecap="round" opacity="0.5"/>
<path d="M461.2,476.8 A102.2,96.7 0 0 1 420.5,441.3" fill="none" stroke="#7f6ba9" stroke-width="2.5" stroke-linecap="round" opacity="0.59"/>
<path d="M607.4,342.3 A112.1,106.6 0 0 1 619.0,401.0" fill="none" stroke="#8f7db8" stroke-width="2.1" stroke-linecap="round" opacity="0.7"/>
<path d="M399.0,412.4 A110.9,105.4 0 0 1 396.7,393.5" fill="none" stroke="#b7a8d8" stroke-width="1.6" stroke-linecap="round" opacity="0.74"/>
<path d="M589.6,328.6 A104.9,99.4 0 0 1 607.0,359.0" fill="none" stroke="#9583bf" stroke-width="2.1" stroke-linecap="round" opacity="0.46"/>
<path d="M608.7,382.8 A101.6,96.1 0 0 1 608.5,401.1" fill="none" stroke="#b7a8d8" stroke-width="2.5" stroke-linecap="round" opacity="0.55"/>
<path d="M477.9,482.9 A101.9,96.4 0 0 1 444.3,466.2" fill="none" stroke="#b7a8d8" stroke-width="1.8" stroke-linecap="round" opacity="0.65"/>
<path d="M615.1,385.1 A107.7,102.2 0 0 1 613.8,407.3" fill="none" stroke="#ffffff" stroke-width="2.3" stroke-linecap="round" opacity="0.88"/>
<path d="M399.4,387.6 A108.1,102.6 0 0 1 401.3,371.2" fill="none" stroke="#ffffff" stroke-width="1.6" stroke-linecap="round" opacity="0.92"/>
<path d="M610.8,365.4 A106.6,101.1 0 0 1 613.5,379.5" fill="none" stroke="#ffffff" stroke-width="2.8" stroke-linecap="round" opacity="0.61"/>
<path d="M547.3,302.3 A101.5,96.0 0 0 1 579.0,322.5" fill="none" stroke="#ffffff" stroke-width="1.4" stroke-linecap="round" opacity="0.76"/>
<path d="M459.7,300.6 A106.3,100.8 0 0 1 493.7,290.7" fill="none" stroke="#ffffff" stroke-width="2.1" stroke-linecap="round" opacity="0.84"/>
<path d="M406.2,411.2 A103.6,98.1 0 0 1 404.7,378.1" fill="none" stroke="#ffffff" stroke-width="1.8" stroke-linecap="round" opacity="0.89"/>
<path d="M608.9,407.7 A103.0,97.5 0 0 1 600.2,433.1" fill="none" stroke="#ffffff" stroke-width="1.7" stroke-linecap="round" opacity="0.72"/>
<path d="M424.1,448.5 A103.4,97.9 0 0 1 411.1,426.1" fill="none" stroke="#ffffff" stroke-width="1.9" stroke-linecap="round" opacity="0.67"/>
<path d="M406.3,379.0 A101.9,96.4 0 0 1 410.1,362.1" fill="none" stroke="#ffffff" stroke-width="2.6" stroke-linecap="round" opacity="0.94"/>
<path d="M576.8,316.4 A104.6,99.1 0 0 1 586.8,325.9" fill="none" stroke="#ffffff" stroke-width="2.4" stroke-linecap="round" opacity="0.73"/>
<path d="M555.2,305.9 A101.4,95.9 0 0 1 568.9,314.2" fill="none" stroke="#ffffff" stroke-width="1.7" stroke-linecap="round" opacity="0.85"/>
<path d="M397.5,387.3 A110.1,104.6 0 0 1 401.9,361.1" fill="none" stroke="#ffffff" stroke-width="1.6" stroke-linecap="round" opacity="0.87"/>
<path d="M481.6,487.0 A105.0,99.5 0 0 1 446.6,471.7" fill="none" stroke="#ffffff" stroke-width="3.0" stroke-linecap="round" opacity="0.66"/>
<path d="M419.6,331.0 A108.0,102.5 0 0 1 442.1,309.0" fill="none" stroke="#ffffff" stroke-width="1.9" stroke-linecap="round" opacity="0.91"/>
</g>
<ellipse cx="512.0" cy="389.6" rx="74" ry="58" fill="url(#gCore)"/>
<ellipse cx="497.5" cy="289.6" rx="9" ry="4" fill="#fff" opacity="0.95" filter="url(#b1)"/>
<ellipse cx="563.5" cy="471.6" rx="8" ry="7" fill="#fff" opacity="0.9" filter="url(#b2)"/>
<ellipse cx="442.5" cy="452.6" rx="6" ry="8" fill="#fff" opacity="0.85" filter="url(#b2)"/>
<ellipse cx="415.5" cy="428.6" rx="3.5" ry="5" fill="#fff" opacity="0.9" filter="url(#b1)"/>
<ellipse cx="611.5" cy="438.6" rx="4" ry="7" fill="#fff" opacity="0.9" filter="url(#b1)"/>
<ellipse cx="507.5" cy="488.6" rx="70" ry="16" fill="#fff" opacity="0.8" filter="url(#b8)"/>
<circle cx="341" cy="306" r="5.8" fill="#8a749c"/><ellipse cx="341" cy="304.0" rx="4.6" ry="2.9" fill="#725c85" opacity="0.75" filter="url(#b1)"/><ellipse cx="341" cy="308.6" rx="4.1" ry="2.2" fill="#a391b4" opacity="0.8" filter="url(#b1)"/>
<circle cx="359.4" cy="330" r="6" fill="#8a749c"/><ellipse cx="359.4" cy="327.9" rx="4.8" ry="3.0" fill="#725c85" opacity="0.75" filter="url(#b1)"/><ellipse cx="359.4" cy="332.7" rx="4.2" ry="2.3" fill="#a391b4" opacity="0.8" filter="url(#b1)"/>
<circle cx="369" cy="339.5" r="5.5" fill="#8a749c"/><ellipse cx="369" cy="337.6" rx="4.4" ry="2.8" fill="#725c85" opacity="0.75" filter="url(#b1)"/><ellipse cx="369" cy="342.0" rx="3.8" ry="2.1" fill="#a391b4" opacity="0.8" filter="url(#b1)"/>
<circle cx="403.5" cy="349.8" r="8.5" fill="#8a749c"/><ellipse cx="403.5" cy="346.8" rx="6.8" ry="4.2" fill="#725c85" opacity="0.75" filter="url(#b1)"/><ellipse cx="403.5" cy="353.6" rx="5.9" ry="3.2" fill="#a391b4" opacity="0.8" filter="url(#b1)"/>
<circle cx="615.6" cy="363" r="5.5" fill="#8a749c"/><ellipse cx="615.6" cy="361.1" rx="4.4" ry="2.8" fill="#725c85" opacity="0.75" filter="url(#b1)"/><ellipse cx="615.6" cy="365.5" rx="3.8" ry="2.1" fill="#a391b4" opacity="0.8" filter="url(#b1)"/>
<circle cx="597.6" cy="493.7" r="8.2" fill="#8a749c"/><ellipse cx="597.6" cy="490.8" rx="6.6" ry="4.1" fill="#725c85" opacity="0.75" filter="url(#b1)"/><ellipse cx="597.6" cy="497.4" rx="5.7" ry="3.1" fill="#a391b4" opacity="0.8" filter="url(#b1)"/>
<circle cx="420" cy="436" r="4.5" fill="#9a86b4"/><ellipse cx="420" cy="434.4" rx="3.6" ry="2.2" fill="#85709f" opacity="0.75" filter="url(#b1)"/><ellipse cx="420" cy="438.0" rx="3.1" ry="1.7" fill="#b8a9cc" opacity="0.8" filter="url(#b1)"/>
<circle cx="597.6" cy="398" r="7" fill="#d9cfee"/><circle cx="596" cy="396" r="4" fill="#f3effa"/>
<circle cx="337.5" cy="325.8" r="3" fill="#f4f4f6"/><circle cx="336" cy="376.5" r="4" fill="#f1f1f4"/>
<path d="M413,267 C 440,253 470,243 500,239.5 C 530,237 556,241 580,250 L591,238 L601.5,264.5 L568.8,273 L574,260 C 552,250 528,245.5 500,247 C 470,249 440,256 413,267 Z" fill="url(#gArr1)"/>
<path d="M799,408.5 C 803,420 806,432 806.7,445 C 806.5,460 801,474 795,484 L787.2,499.4 L786.4,515 L763.75,516.6 L766.9,497.8 L778.5,502 L782.5,493 C 790,478 797,465 800.5,449 C 802,435 800.5,420 799,408.5 Z" fill="#ffffff" opacity="0.9"/>
</svg>

<!-- step pills -->
<div class="pill" style="left:100px;top:352px;width:144px;height:41px"></div>
<div class="pill" style="left:745px;top:270px;width:144px;height:41px"></div>
<!-- step3 box -->
<div style="position:absolute;left:542px;top:527.5px;width:356px;height:140px;border-radius:14px;background:rgba(255,255,255,0.7)"></div>
<div class="pill" style="left:649px;top:537px;width:143.5px;height:40.5px"></div>
<!-- side & bottom strips -->
<div style="position:absolute;left:0;top:1000px;width:1024px;height:24px;background:linear-gradient(to right,#f6f6f8 0,#f1f1f4 35%,#e6e7ea 75%,#dcdde3 100%)"></div>
<div style="position:absolute;left:0;top:690px;width:26px;height:334px;background:linear-gradient(to bottom,rgba(221,214,237,0) 0,rgba(221,214,237,0.95) 12%,#e6e1f1 45%,#f4f3f8 80%,#f6f6f8 100%)"></div>
<div style="position:absolute;left:1000px;top:690px;width:24px;height:334px;background:linear-gradient(to bottom,rgba(214,212,224,0) 0,rgba(216,213,226,0.95) 12%,#d6d5df 60%,#dcdde3 100%)"></div>
<!-- panel -->
<div style="position:absolute;left:22px;top:697.5px;width:981.5px;height:308.5px;border-radius:27px 27px 22px 22px;background:rgba(253,252,254,0.95);overflow:hidden">
  <div style="position:absolute;left:0;top:0;width:100%;height:68.5px;background:#7a489d"></div>
</div>
<!-- charts -->
<svg width="1024" height="1024" viewBox="0 0 1024 1024" style="position:absolute;left:0;top:0">

 <defs><linearGradient id="gDA" gradientUnits="userSpaceOnUse" x1="0" y1="779" x2="0" y2="817">
   <stop offset="0" stop-color="#cfc3e6" stop-opacity="0.25"/><stop offset="0.35" stop-color="#b9a6da" stop-opacity="0.85"/><stop offset="0.7" stop-color="#a085c9"/><stop offset="1" stop-color="#8b6db6"/></linearGradient></defs>
 <path id="da" d="M422.1,779.9 C 427,780 433,785 436.9,791.5 C 439,795.5 440,799 440.1,802.2 L445.9,802.1 L435,816.5 L424.1,802.2 L430.4,802.2 C 430.8,798 430.5,795 429.9,792.6 C 428.5,787.5 426,783 422.1,779.9 Z" fill="url(#gDA)"/>
 <path d="M422.1,779.9 C 427,780 433,785 436.9,791.5 C 439,795.5 440,799 440.1,802.2 L445.9,802.1 L435,816.5 L424.1,802.2 L430.4,802.2 C 430.8,798 430.5,795 429.9,792.6 C 428.5,787.5 426,783 422.1,779.9 Z" fill="url(#gDA)" transform="translate(439.3 0)"/>
 <g id="c1">
  <path d="M120 825 V962 H493" fill="none" stroke="#4f3470" stroke-width="1.6"/>
  <path d="M485 957.2 L493 961.6" fill="none" stroke="#4f3470" stroke-width="1.4"/>
  <rect x="139" y="848" width="51.2" height="114" fill="#7848a0"/>
  <rect x="229.8" y="881.6" width="51.2" height="80.4" fill="#7848a0"/>
  <rect x="318" y="909.8" width="51.1" height="52.2" fill="#7848a0"/>
  <rect x="409.2" y="941.6" width="51" height="20.4" fill="#7848a0"/>
 </g>
 <g id="c2">
  <path d="M582 825 V962 H956.5" fill="none" stroke="#4f3470" stroke-width="1.6"/>
  <path d="M948.5 957.2 L956.5 961.6" fill="none" stroke="#4f3470" stroke-width="1.4"/>
  <rect x="602" y="848" width="51.2" height="114" fill="#7848a0"/>
  <rect x="692.6" y="889.8" width="51.2" height="72.2" fill="#7848a0"/>
  <rect x="781" y="917.6" width="51" height="44.4" fill="#7848a0"/>
  <rect x="871.8" y="949.9" width="51" height="12.1" fill="#7848a0"/>
 </g>
</svg>

<div class="t" id="t0" style="left:118.33px;top:356.70px;font-size:33px;font-weight:400;color:#ffffff;letter-spacing:0.000px;transform:scaleX(0.9326);word-spacing:-5.5px">STEP 1</div>
<div class="t" id="t1" style="left:134.40px;top:410.60px;font-size:26px;font-weight:700;color:#1b1b1d;letter-spacing:0.000px;transform:scaleX(1.1235);">VC-IP</div>
<div class="t" id="t2" style="left:760.03px;top:274.70px;font-size:33px;font-weight:400;color:#ffffff;letter-spacing:0.000px;transform:scaleX(1.0071);word-spacing:-6.5px">STEP 2</div>
<div class="t" id="t3" style="left:748.00px;top:359.05px;font-size:27.3px;font-weight:700;color:#1b1b1d;letter-spacing:0.000px;transform:scaleX(1.0994);">Transport</div>
<div class="t" id="t4" style="left:664.37px;top:541.60px;font-size:33px;font-weight:400;color:#ffffff;letter-spacing:0.000px;transform:scaleX(0.9741);word-spacing:-3.5px">STEP 3</div>
<div class="t" id="t5" style="left:169.42px;top:794.80px;font-size:20px;font-weight:700;color:#55367d;letter-spacing:0.000px;transform:scaleX(1.0938);">Fine lines</div>
<div class="t" id="t6" style="left:276.11px;top:779.75px;font-size:37.7px;font-weight:400;color:#55367d;letter-spacing:0.000px;transform:scaleX(1.0954);-webkit-text-stroke:0.5px #55367d">89.58%</div>
<div class="t" id="t7" style="left:660.93px;top:794.80px;font-size:20px;font-weight:700;color:#55367d;letter-spacing:0.000px;transform:scaleX(1.1080);">Dark</div>
<div class="t" id="t8" style="left:717.45px;top:779.75px;font-size:37.7px;font-weight:400;color:#55367d;letter-spacing:0.000px;transform:scaleX(1.0624);-webkit-text-stroke:0.5px #55367d">97.55%</div>
<div class="t" id="t9" style="left:63.11px;top:836.40px;font-size:21px;font-weight:400;color:#4a2f68;letter-spacing:0.000px;transform:scaleX(0.8917);">100%</div>
<div class="t" id="t10" style="left:73.87px;top:871.50px;font-size:21px;font-weight:400;color:#4a2f68;letter-spacing:0.000px;transform:scaleX(0.8892);">80%</div>
<div class="t" id="t11" style="left:74.56px;top:907.70px;font-size:21px;font-weight:400;color:#4a2f68;letter-spacing:0.000px;transform:scaleX(0.8753);">40%</div>
<div class="t" id="t12" style="left:86.88px;top:944.00px;font-size:21px;font-weight:400;color:#4a2f68;letter-spacing:0.000px;transform:scaleX(0.8540);">0%</div>
<div class="t" id="t13" style="left:213.58px;top:853.50px;font-size:24px;font-weight:400;color:#4a2f68;letter-spacing:0.000px;transform:scaleX(0.9233);">-42.58%</div>
<div class="t" id="t14" style="left:305.90px;top:881.80px;font-size:24px;font-weight:400;color:#4a2f68;letter-spacing:0.000px;transform:scaleX(0.9029);">-61.98%</div>
<div class="t" id="t15" style="left:394.37px;top:914.30px;font-size:24px;font-weight:400;color:#4a2f68;letter-spacing:0.000px;transform:scaleX(0.9267);">-89.58%</div>
<div class="t" id="t16" style="left:137.83px;top:975.25px;font-size:17.5px;font-weight:400;color:#4c3a60;letter-spacing:0.000px;transform:scaleX(1.0713);">before</div>
<div class="t" id="t17" style="left:228.16px;top:975.00px;font-size:17px;font-weight:400;color:#4c3a60;letter-spacing:0.000px;transform:scaleX(0.9820);">7 Days</div>
<div class="t" id="t18" style="left:313.04px;top:975.00px;font-size:17px;font-weight:400;color:#4c3a60;letter-spacing:0.000px;transform:scaleX(0.9644);">15 Days</div>
<div class="t" id="t19" style="left:404.18px;top:975.00px;font-size:17px;font-weight:400;color:#4c3a60;letter-spacing:0.000px;transform:scaleX(0.9788);">28 Days</div>
<div class="t" id="t20" style="left:525.46px;top:836.40px;font-size:21px;font-weight:400;color:#4a2f68;letter-spacing:0.000px;transform:scaleX(0.8897);">100%</div>
<div class="t" id="t21" style="left:536.72px;top:871.50px;font-size:21px;font-weight:400;color:#4a2f68;letter-spacing:0.000px;transform:scaleX(0.9165);">80%</div>
<div class="t" id="t22" style="left:537.16px;top:907.70px;font-size:21px;font-weight:400;color:#4a2f68;letter-spacing:0.000px;transform:scaleX(0.8946);">40%</div>
<div class="t" id="t23" style="left:549.45px;top:944.00px;font-size:21px;font-weight:400;color:#4a2f68;letter-spacing:0.000px;transform:scaleX(0.8898);">0%</div>
<div class="t" id="t24" style="left:676.07px;top:861.50px;font-size:24px;font-weight:400;color:#4a2f68;letter-spacing:0.000px;transform:scaleX(0.9279);">-36.89%</div>
<div class="t" id="t25" style="left:769.02px;top:889.90px;font-size:24px;font-weight:400;color:#4a2f68;letter-spacing:0.000px;transform:scaleX(0.8813);">-72.91%</div>
<div class="t" id="t26" style="left:859.20px;top:921.90px;font-size:24px;font-weight:400;color:#4a2f68;letter-spacing:0.000px;transform:scaleX(0.8983);">-97.55%</div>
<div class="t" id="t27" style="left:602.44px;top:975.25px;font-size:17.5px;font-weight:400;color:#4c3a60;letter-spacing:0.000px;transform:scaleX(1.0650);">before</div>
<div class="t" id="t28" style="left:690.87px;top:975.00px;font-size:17px;font-weight:400;color:#4c3a60;letter-spacing:0.000px;transform:scaleX(0.9979);">7 Days</div>
<div class="t" id="t29" style="left:777.04px;top:975.00px;font-size:17px;font-weight:400;color:#4c3a60;letter-spacing:0.000px;transform:scaleX(0.9644);">15 Days</div>
<div class="t" id="t30" style="left:868.14px;top:975.00px;font-size:17px;font-weight:400;color:#4c3a60;letter-spacing:0.000px;transform:scaleX(0.9758);">28 Days</div>
<div class="t" id="t31" style="left:320.79px;top:69.60px;font-size:50.5px;font-weight:700;color:#1b1b1d;letter-spacing:0.000px;transform:scaleX(1.0353);-webkit-text-stroke:0.9px #1b1b1d">MORE</div>
<div class="t" id="t32" style="left:492.88px;top:69.60px;font-size:50.5px;font-weight:700;color:#1b1b1d;letter-spacing:0.000px;transform:scaleX(0.9729);-webkit-text-stroke:0.9px #1b1b1d">ELASTIC</div>
<div class="t" id="t33" style="left:123.63px;top:125.01px;font-size:50.5px;font-weight:700;color:#1b1b1d;letter-spacing:0.000px;transform:scaleX(0.9848);-webkit-text-stroke:0.9px #1b1b1d">&amp;</div>
<div class="t" id="t34" style="left:171.25px;top:125.01px;font-size:50.5px;font-weight:700;color:#1b1b1d;letter-spacing:0.000px;transform:scaleX(1.0086);-webkit-text-stroke:0.9px #1b1b1d">YOUNGER</div>
<div class="t" id="t35" style="left:442.55px;top:125.01px;font-size:50.5px;font-weight:700;color:#1b1b1d;letter-spacing:0.000px;transform:scaleX(0.9758);-webkit-text-stroke:0.9px #1b1b1d">&amp;</div>
<div class="t" id="t36" style="left:491.28px;top:125.01px;font-size:50.5px;font-weight:700;color:#1b1b1d;letter-spacing:0.000px;transform:scaleX(1.0387);-webkit-text-stroke:0.9px #1b1b1d">MORE</div>
<div class="t" id="t37" style="left:663.80px;top:125.01px;font-size:50.5px;font-weight:700;color:#1b1b1d;letter-spacing:0.000px;transform:scaleX(1.0344);-webkit-text-stroke:0.9px #1b1b1d">RADIANT</div>
<div class="t" id="t38" style="left:37.00px;top:441.55px;font-size:20.3px;font-weight:400;color:#222224;letter-spacing:0.000px;transform:scaleX(1.1327);">Accelerate</div>
<div class="t" id="t39" style="left:151.90px;top:441.55px;font-size:20.3px;font-weight:400;color:#222224;letter-spacing:0.861px;transform:scaleX(1.1400);">the</div>
<div class="t" id="t40" style="left:190.68px;top:441.55px;font-size:20.3px;font-weight:400;color:#222224;letter-spacing:0.808px;transform:scaleX(1.1083);">Elimination</div>
<div class="t" id="t41" style="left:92.12px;top:463.75px;font-size:20.3px;font-weight:400;color:#222224;letter-spacing:0.000px;transform:scaleX(1.0706);">of</div>
<div class="t" id="t42" style="left:118.05px;top:463.75px;font-size:20.3px;font-weight:400;color:#222224;letter-spacing:0.900px;transform:scaleX(1.1058);">Pigmentation</div>
<div class="t" id="t43" style="left:706.84px;top:329.35px;font-size:27.3px;font-weight:700;color:#1b1b1d;letter-spacing:0.000px;transform:scaleX(1.1518);">Inhibit</div>
<div class="t" id="t44" style="left:812.02px;top:329.35px;font-size:27.3px;font-weight:700;color:#1b1b1d;letter-spacing:0.000px;transform:scaleX(1.1306);">Melanin</div>
<div class="t" id="t45" style="left:560.40px;top:594.85px;font-size:27.3px;font-weight:700;color:#1b1b1d;letter-spacing:0.674px;transform:scaleX(1.1141);">Inhibit</div>
<div class="t" id="t46" style="left:666.20px;top:594.85px;font-size:27.3px;font-weight:700;color:#1b1b1d;letter-spacing:0.000px;transform:scaleX(1.1421);">the</div>
<div class="t" id="t47" style="left:721.17px;top:594.85px;font-size:27.3px;font-weight:700;color:#1b1b1d;letter-spacing:0.000px;transform:scaleX(1.1229);">Production</div>
<div class="t" id="t48" style="left:648.86px;top:624.85px;font-size:27.3px;font-weight:700;color:#1b1b1d;letter-spacing:0.000px;transform:scaleX(1.0830);">of</div>
<div class="t" id="t49" style="left:685.76px;top:624.85px;font-size:27.3px;font-weight:700;color:#1b1b1d;letter-spacing:0.000px;transform:scaleX(1.1447);">Melanin</div>
<div class="t" id="t50" style="left:124.49px;top:716.05px;font-size:27.5px;font-weight:700;color:#ffffff;letter-spacing:0.000px;transform:scaleX(1.1243);">Effectively</div>
<div class="t" id="t51" style="left:289.84px;top:716.05px;font-size:27.5px;font-weight:700;color:#ffffff;letter-spacing:0.000px;transform:scaleX(1.1356);">Tighten</div>
<div class="t" id="t52" style="left:410.87px;top:716.05px;font-size:27.5px;font-weight:700;color:#ffffff;letter-spacing:0.000px;transform:scaleX(1.0278);">&amp;</div>
<div class="t" id="t53" style="left:438.98px;top:716.05px;font-size:27.5px;font-weight:700;color:#ffffff;letter-spacing:0.000px;transform:scaleX(1.1470);">Lighten</div>
<div class="t" id="t54" style="left:561.00px;top:716.05px;font-size:27.5px;font-weight:700;color:#ffffff;letter-spacing:0.000px;transform:scaleX(1.1385);">Wrinkles</div>
<div class="t" id="t55" style="left:698.77px;top:716.05px;font-size:27.5px;font-weight:700;color:#ffffff;letter-spacing:0.000px;transform:scaleX(1.1787);">After</div>
<div class="t" id="t56" style="left:783.11px;top:716.05px;font-size:27.5px;font-weight:700;color:#ffffff;letter-spacing:0.000px;transform:scaleX(1.1975);">28</div>
<div class="t" id="t57" style="left:827.93px;top:716.05px;font-size:27.5px;font-weight:700;color:#ffffff;letter-spacing:0.000px;transform:scaleX(1.0721);">Days</div>
</body></html>
